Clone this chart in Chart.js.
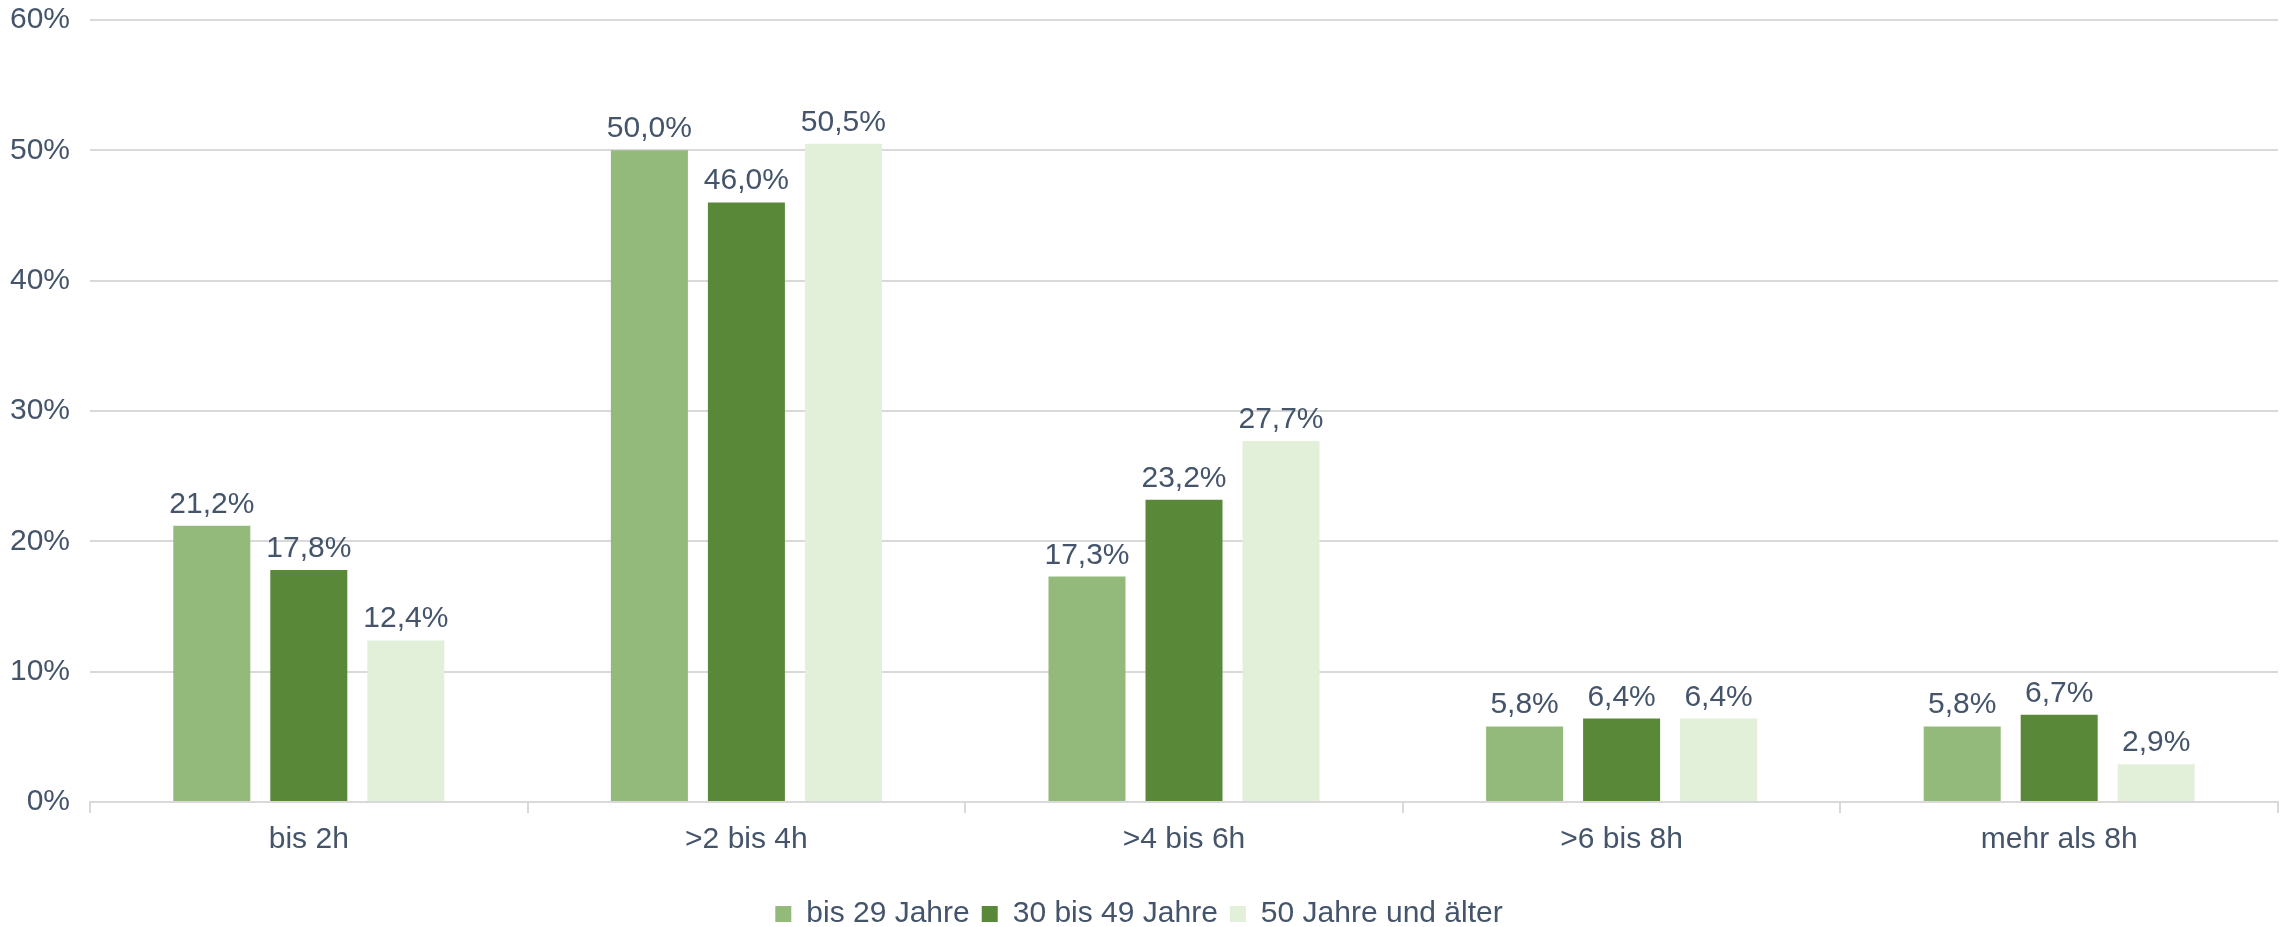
<!DOCTYPE html>
<html>
<head>
<meta charset="utf-8">
<script src="https://cdn.jsdelivr.net/npm/chart.js@4.4.1/dist/chart.umd.min.js"></script>
<style>
  html, body { margin: 0; padding: 0; background: #fff; }
  #wrap { width: 2288px; height: 927px; position: relative; }
</style>
</head>
<body>
<div id="wrap"><canvas id="myChart"></canvas></div>
<script>
var categories = ["bis 2h", ">2 bis 4h", ">4 bis 6h", ">6 bis 8h", "mehr als 8h"];
var seriesNames = ["bis 29 Jahre", "30 bis 49 Jahre", "50 Jahre und älter"];
var young = [21.2, 50.0, 17.3, 5.8, 5.8];
var middle = [17.8, 46.0, 23.2, 6.4, 6.7];
var older = [12.4, 50.5, 27.7, 6.4, 2.9];
var yTicks = [0, 10, 20, 30, 40, 50, 60];

var textColor = "#44546A";
var gridColor = "#D9D9D9";
Chart.defaults.font.family = "'Liberation Sans', Arial, sans-serif";
Chart.defaults.font.size = 30;
Chart.defaults.color = textColor;

function fmt(v) {
    return v.toFixed(1).replace(".", ",") + "%";
}

// value labels above each bar
var valueLabels = {
    id: "valueLabels",
    afterDatasetsDraw: function(chart) {
        var ctx = chart.ctx;
        ctx.save();
        ctx.font = "30px 'Liberation Sans', Arial, sans-serif";
        ctx.fillStyle = textColor;
        ctx.textAlign = "center";
        ctx.textBaseline = "alphabetic";
        chart.data.datasets.forEach(function(ds, i) {
            chart.getDatasetMeta(i).data.forEach(function(bar, j) {
                ctx.fillText(fmt(ds.data[j]), bar.x, bar.y - 13);
            });
        });
        ctx.restore();
    }
};

var ctx = document.getElementById("myChart").getContext("2d");
var myChart = new Chart(ctx, {
    type: "bar",
    data: {
        labels: categories,
        datasets: [
            { label: seriesNames[0], data: young, backgroundColor: "#93BA7B" },
            { label: seriesNames[1], data: middle, backgroundColor: "#5A8839" },
            { label: seriesNames[2], data: older, backgroundColor: "#E2EFD9" }
        ]
    },
    options: {
        responsive: true,
        maintainAspectRatio: false,
        animation: false,
        categoryPercentage: 0.665,
        barPercentage: 0.794,
        layout: { padding: { top: 20, right: 10, left: 0, bottom: -12 } },
        plugins: {
            tooltip: { enabled: false },
            legend: {
                position: "bottom",
                labels: {
                    boxWidth: 16,
                    boxHeight: 16,
                    padding: 12,
                    font: { size: 30 },
                    color: textColor
                }
            }
        },
        scales: {
            x: {
                grid: {
                    offset: true,
                    drawOnChartArea: false,
                    drawTicks: true,
                    tickLength: 11,
                    color: gridColor,
                    lineWidth: 2
                },
                border: { color: gridColor, width: 2 },
                ticks: { padding: 9, color: textColor },
                afterFit: function(scale) { scale.height = 85; }
            },
            y: {
                min: 0,
                max: 60,
                afterBuildTicks: function(scale) {
                    scale.ticks = yTicks.map(function(v) { return { value: v }; });
                },
                grid: { color: gridColor, lineWidth: 2, drawTicks: false },
                border: { display: false },
                ticks: {
                    padding: 20,
                    color: textColor,
                    callback: function(v) { return v + "%"; }
                },
                afterFit: function(scale) {
                    scale.width = 90;
                    scale.paddingTop = 0;
                }
            }
        }
    },
    plugins: [valueLabels]
});
</script>
</body>
</html>
